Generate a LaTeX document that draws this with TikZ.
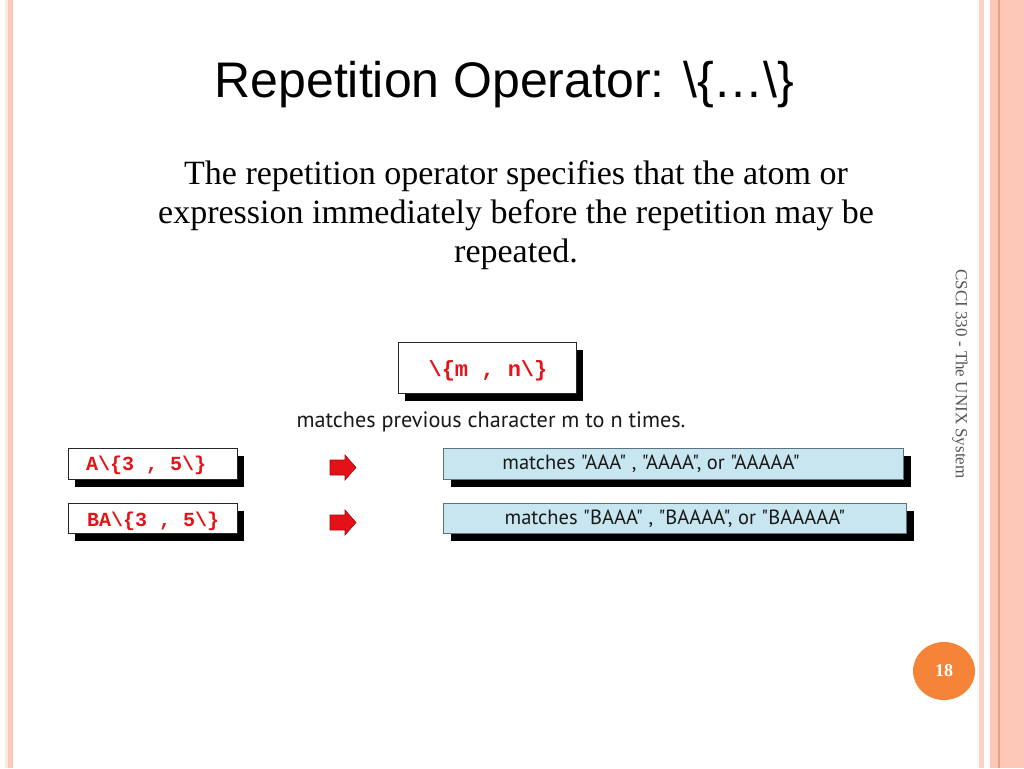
\documentclass[tikz,border=0pt]{standalone}
\usepackage{fontspec}
\setmainfont{Liberation Serif}
\setmonofont{Liberation Mono}
\newfontfamily\titlefont{Liberation Sans}
\newfontfamily\labfont{PT Sans}
\usetikzlibrary{shadows,shapes.geometric}
\definecolor{salmon}{RGB}{252,200,182}
\definecolor{salmonlt}{RGB}{253,210,196}
\definecolor{salmondk}{RGB}{232,160,135}
\definecolor{cream}{RGB}{252,234,220}
\definecolor{codered}{RGB}{226,20,24}
\definecolor{arrowred}{RGB}{228,18,24}
\definecolor{arrowedge}{RGB}{160,10,14}
\definecolor{boxblue}{RGB}{200,230,240}
\definecolor{boxedge}{RGB}{95,115,125}
\definecolor{badge}{RGB}{245,132,56}
\definecolor{sidegray}{RGB}{85,85,85}
\tikzset{
  codebox/.style={draw=black!85, line width=0.9pt, fill=white, inner sep=0pt,
    drop shadow={shadow xshift=7pt, shadow yshift=-8pt, fill=black, opacity=1}},
  bluebox/.style={draw=boxedge, line width=0.9pt, fill=boxblue, inner sep=0pt,
    drop shadow={shadow xshift=8pt, shadow yshift=-8pt, fill=black, opacity=1}},
  codetext/.style={inner sep=0pt, anchor=base, text=codered, font=\ttfamily\bfseries\fontsize{20}{24}\selectfont},
  labtext/.style={inner sep=0pt, anchor=base, text=black!90, font=\labfont\fontsize{20.5}{24}\selectfont},
  bodytext/.style={inner sep=0pt, anchor=base, font=\fontsize{34}{40}\selectfont},
  redarrow/.style={fill=arrowred, draw=arrowedge, line width=0.6pt, line join=miter},
}
\begin{document}
\begin{tikzpicture}[x=1pt,y=-1pt]
\useasboundingbox (0,0) rectangle (1024,768);
\fill[white] (0,0) rectangle (1024,768);
% left border
\fill[cream] (5,0) rectangle (8,768);
\fill[salmon] (8,0) rectangle (13,768);
% right border
\fill[salmonlt] (979,0) rectangle (984,768);
\fill[salmon] (990,0) rectangle (1024,768);
\fill[salmondk] (998,0) rectangle (999.5,768);
% title
\node[inner sep=0pt, anchor=base, font=\titlefont\fontsize{50}{60}\selectfont] (title) at (504.5,97) {Repetition Operator: \textbackslash\{…\textbackslash\}};
% body
\node[bodytext] (l1) at (516,184) {The repetition operator specifies that the atom or};
\node[bodytext] (l2) at (516,223) {expression immediately before the repetition may be};
\node[bodytext] (l3) at (516,262) {repeated.};
% side text
\node[inner sep=0pt, rotate=-90, text=sidegray, font=\fontsize{17}{20}\selectfont] (side) at (960,374) {CSCI 330 - The UNIX System};
% page badge
\node[ellipse, fill=badge, minimum width=62pt, minimum height=58pt, inner sep=0pt, text=white, font=\bfseries\fontsize{18}{20}\selectfont] (badge) at (944,671) {18};
% top box
\node[codebox, minimum width=178pt, minimum height=51pt] (mn) at (487,367.5) {};
\node[codetext, font=\ttfamily\bfseries\fontsize{22}{26}\selectfont] (mntext) at (488,376.5) {\textbackslash\{m , n\textbackslash\}};
\node[labtext, font=\labfont\fontsize{22.2}{26}\selectfont] (desc) at (491,427) {matches previous character m to n times.};
% row 1
\node[codebox, minimum width=169pt, minimum height=31pt] (a1) at (152.5,463.5) {};
\node[codetext, anchor=base west] (a1t) at (86,470.5) {A\textbackslash\{3 , 5\textbackslash\}};
\coordinate (ar1) at (343,467.5);
\draw[redarrow] (ar1) +(-13,-7.5) -- +(2,-7.5) -- +(2,-12.5) -- +(13,0) -- +(2,12.5) -- +(2,7.5) -- +(-13,7.5) -- cycle;
\node[bluebox, minimum width=460pt, minimum height=31pt] (r1) at (673,463.5) {};
\node[labtext] (r1t) at (651,469.5) {matches "AAA" , "AAAA", or "AAAAA"};
% row 2
\node[codebox, minimum width=169pt, minimum height=30pt] (a2) at (152.5,518) {};
\node[codetext, anchor=base west] (a2t) at (87,526) {BA\textbackslash\{3 , 5\textbackslash\}};
\coordinate (ar2) at (343,522.5);
\draw[redarrow] (ar2) +(-13,-7.5) -- +(2,-7.5) -- +(2,-12.5) -- +(13,0) -- +(2,12.5) -- +(2,7.5) -- +(-13,7.5) -- cycle;
\node[bluebox, minimum width=463pt, minimum height=30pt] (r2) at (674.5,518) {};
\node[labtext] (r2t) at (675,524.5) {matches "BAAA" , "BAAAA", or "BAAAAA"};
\end{tikzpicture}
\end{document}
